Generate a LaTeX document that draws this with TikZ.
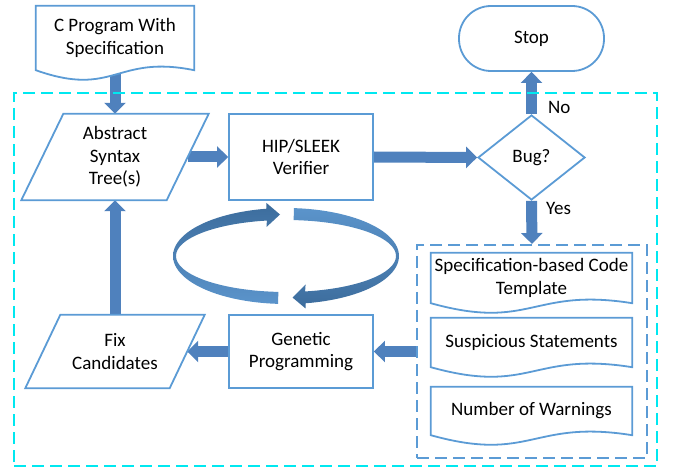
\documentclass[tikz,border=0pt]{standalone}
\usepackage{fontspec}
\setmainfont{Carlito}
\usetikzlibrary{arrows.meta,shapes.geometric,calc,backgrounds}
\definecolor{shapeblue}{HTML}{5B9BD5}
\definecolor{arrowblue}{HTML}{4F81BD}
\definecolor{framecyan}{HTML}{00E8F0}
\definecolor{ringdark}{HTML}{3C6C9C}
\definecolor{ringlight}{HTML}{5B94CB}
\begin{document}
\begin{tikzpicture}[x=1pt,y=-1pt,
  every node/.style={font=\fontsize{19}{22.5}\selectfont, text=black, inner sep=0pt, align=center},
  boxnode/.style={rectangle, draw=shapeblue, line width=1.8pt, fill=white},
  textonly/.style={rectangle},
  outline/.style={draw=shapeblue, line width=1.8pt, fill=white, line join=miter},
  flow/.style={draw=arrowblue, line width=11pt, -{Triangle[width=21pt,length=11pt]}},
  framebox/.style={rectangle, draw=framecyan, line width=2pt, dash pattern=on 12pt off 6pt},
  groupbox/.style={rectangle, draw=shapeblue, line width=2pt, dash pattern=on 12pt off 6pt},
  lbl/.style={anchor=west}
]
\useasboundingbox (0,0) rectangle (673,468);

% frames
\node[framebox, minimum width=643pt, minimum height=373pt] (frame) at (335.5,279.5) {};
\node[groupbox, minimum width=230pt, minimum height=213pt] (ib) at (532,351.5) {};

% text nodes (outlines drawn on background)
\node[textonly, minimum width=158pt, minimum height=64pt] (prog) at (115,38) {C Program With\\Specification};
\node[textonly, minimum width=145pt, minimum height=86pt] (ast) at (115,157) {Abstract\\Syntax\\Tree(s)};
\node[textonly, minimum width=144pt, minimum height=73pt] (fix) at (115,351.5) {Fix\\Candidates};
\node[textonly, minimum width=201pt, minimum height=50pt] (d1) at (531.5,278) {Specification-based Code\\Template};
\node[textonly, minimum width=201pt, minimum height=49pt] (d2) at (531.5,342.5) {Suspicious Statements};
\node[textonly, minimum width=201pt, minimum height=48pt] (d3) at (531.5,411) {Number of Warnings};

% boxed nodes
\node[boxnode, minimum width=144pt, minimum height=86pt] (hip) at (301,157) {HIP/SLEEK\\Verifier};
\node[boxnode, minimum width=144pt, minimum height=73pt] (gp) at (301,351.5) {Genetic\\Programming};
\node[diamond, draw=shapeblue, line width=1.8pt, fill=white, minimum width=107pt, minimum height=85pt] (bug) at (531.5,157.5) {Bug?};
\node[rectangle, rounded corners=32pt, draw=shapeblue, line width=1.8pt, fill=white, minimum width=145pt, minimum height=65pt] (stop) at (531.5,38.5) {Stop};

% labels
\node[lbl] (nolbl) at (548,107) {No};
\node[lbl] (yeslbl) at (546,208) {Yes};

\begin{pgfonlayer}{background}
  % connectors
  \draw[flow] (prog.south) -- (ast.north);
  \draw[flow] (ast.east) -- (hip.west);
  \draw[flow] (hip.east) -- (bug.west);
  \draw[flow] (bug.north) -- (stop.south);
  \draw[flow] (bug.south) -- (ib.north);
  \draw[flow] (ib.west) -- (gp.east);
  \draw[flow] (gp.west) -- (fix.east);
  \draw[flow] (fix.north) -- (ast.south);
  % document outlines
  \foreach \d/\hw in {prog/79, d1/100.5, d2/100.5, d3/100.5}{
    \draw[outline] (\d.north west) -- (\d.north east) -- (\d.south east)
      .. controls ($(\d.south east)+(-\hw,-16)$) and ($(\d.south west)+(\hw,28)$) .. (\d.south west) -- cycle;
  }
  % parallelograms
  \draw[outline] ($(ast.north west)+(21,0)$) -- ($(ast.north east)+(21,0)$) -- ($(ast.south east)+(-21,0)$) -- ($(ast.south west)+(-21,0)$) -- cycle;
  \draw[outline] ($(fix.north west)+(17.5,0)$) -- ($(fix.north east)+(17.5,0)$) -- ($(fix.south east)+(-17.5,0)$) -- ($(fix.south west)+(-17.5,0)$) -- cycle;
\end{pgfonlayer}

% cycle ring
\shade[top color=ringdark, bottom color=ringlight]
  plot[domain=94:260, samples=50, variable=\t] ({286+113*cos(\t)},{256+48*sin(\t)})
  -- (266.5,203) -- (280,214.5) -- (266.5,227)
  -- plot[domain=260:94, samples=50, variable=\t] ({286+110*cos(\t)},{256+36*sin(\t)}) -- cycle;
\shade[top color=ringlight, bottom color=ringdark]
  plot[domain=-86:80, samples=50, variable=\t] ({286+113*cos(\t)},{256+48*sin(\t)})
  -- (305.6,308.5) -- (292.5,297.5) -- (305.6,284.5)
  -- plot[domain=80:-86, samples=50, variable=\t] ({286+110*cos(\t)},{256+36*sin(\t)}) -- cycle;
\end{tikzpicture}
\end{document}
